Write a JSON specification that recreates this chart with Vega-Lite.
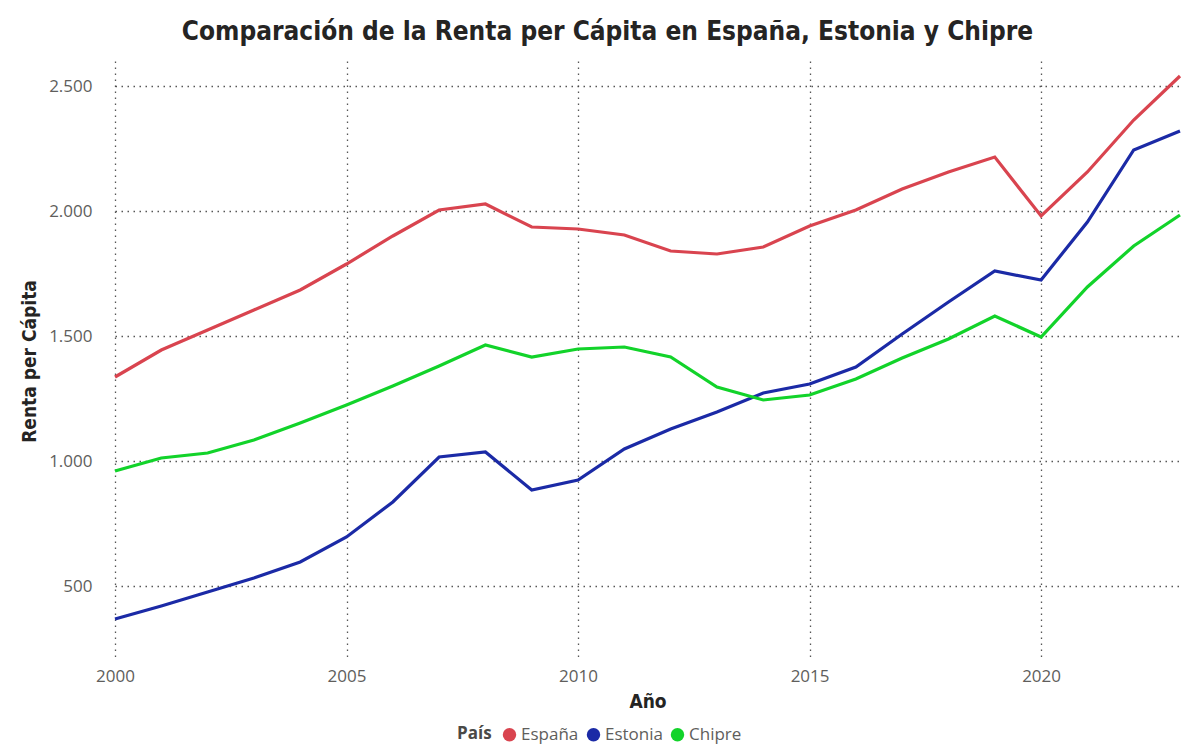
{
  "$schema": "https://vega.github.io/schema/vega-lite/v6.json",
  "autosize": {"type": "none"},
  "width": 1065,
  "height": 600,
  "padding": {"left": 115, "top": 61, "right": 6, "bottom": 84},
  "background": "white",
  "title": {
    "text": "Comparación de la Renta per Cápita en España, Estonia y Chipre",
    "font": "DejaVu Sans Condensed",
    "fontWeight": "bold",
    "fontSize": 26,
    "color": "#252423",
    "anchor": "middle",
    "dx": -40,
    "offset": 16
  },
  "data": {
    "values": [
      {"Año": 2000, "País": "España", "Renta": 1336},
      {"Año": 2001, "País": "España", "Renta": 1444},
      {"Año": 2002, "País": "España", "Renta": 1524},
      {"Año": 2003, "País": "España", "Renta": 1604},
      {"Año": 2004, "País": "España", "Renta": 1684},
      {"Año": 2005, "País": "España", "Renta": 1788},
      {"Año": 2006, "País": "España", "Renta": 1900},
      {"Año": 2007, "País": "España", "Renta": 2004},
      {"Año": 2008, "País": "España", "Renta": 2028},
      {"Año": 2009, "País": "España", "Renta": 1936},
      {"Año": 2010, "País": "España", "Renta": 1928},
      {"Año": 2011, "País": "España", "Renta": 1904},
      {"Año": 2012, "País": "España", "Renta": 1840},
      {"Año": 2013, "País": "España", "Renta": 1828},
      {"Año": 2014, "País": "España", "Renta": 1856},
      {"Año": 2015, "País": "España", "Renta": 1940},
      {"Año": 2016, "País": "España", "Renta": 2004},
      {"Año": 2017, "País": "España", "Renta": 2088},
      {"Año": 2018, "País": "España", "Renta": 2156},
      {"Año": 2019, "País": "España", "Renta": 2216},
      {"Año": 2020, "País": "España", "Renta": 1980},
      {"Año": 2021, "País": "España", "Renta": 2156},
      {"Año": 2022, "País": "España", "Renta": 2364},
      {"Año": 2023, "País": "España", "Renta": 2540},
      {"Año": 2000, "País": "Estonia", "Renta": 368},
      {"Año": 2001, "País": "Estonia", "Renta": 420},
      {"Año": 2002, "País": "Estonia", "Renta": 476},
      {"Año": 2003, "País": "Estonia", "Renta": 532},
      {"Año": 2004, "País": "Estonia", "Renta": 596},
      {"Año": 2005, "País": "Estonia", "Renta": 696},
      {"Año": 2006, "País": "Estonia", "Renta": 836},
      {"Año": 2007, "País": "Estonia", "Renta": 1016},
      {"Año": 2008, "País": "Estonia", "Renta": 1036},
      {"Año": 2009, "País": "Estonia", "Renta": 884},
      {"Año": 2010, "País": "Estonia", "Renta": 924},
      {"Año": 2011, "País": "Estonia", "Renta": 1048},
      {"Año": 2012, "País": "Estonia", "Renta": 1128},
      {"Año": 2013, "País": "Estonia", "Renta": 1196},
      {"Año": 2014, "País": "Estonia", "Renta": 1272},
      {"Año": 2015, "País": "Estonia", "Renta": 1308},
      {"Año": 2016, "País": "Estonia", "Renta": 1376},
      {"Año": 2017, "País": "Estonia", "Renta": 1508},
      {"Año": 2018, "País": "Estonia", "Renta": 1636},
      {"Año": 2019, "País": "Estonia", "Renta": 1760},
      {"Año": 2020, "País": "Estonia", "Renta": 1724},
      {"Año": 2021, "País": "Estonia", "Renta": 1956},
      {"Año": 2022, "País": "Estonia", "Renta": 2244},
      {"Año": 2023, "País": "Estonia", "Renta": 2320},
      {"Año": 2000, "País": "Chipre", "Renta": 960},
      {"Año": 2001, "País": "Chipre", "Renta": 1012},
      {"Año": 2002, "País": "Chipre", "Renta": 1032},
      {"Año": 2003, "País": "Chipre", "Renta": 1084},
      {"Año": 2004, "País": "Chipre", "Renta": 1152},
      {"Año": 2005, "País": "Chipre", "Renta": 1224},
      {"Año": 2006, "País": "Chipre", "Renta": 1300},
      {"Año": 2007, "País": "Chipre", "Renta": 1380},
      {"Año": 2008, "País": "Chipre", "Renta": 1464},
      {"Año": 2009, "País": "Chipre", "Renta": 1416},
      {"Año": 2010, "País": "Chipre", "Renta": 1448},
      {"Año": 2011, "País": "Chipre", "Renta": 1456},
      {"Año": 2012, "País": "Chipre", "Renta": 1416},
      {"Año": 2013, "País": "Chipre", "Renta": 1296},
      {"Año": 2014, "País": "Chipre", "Renta": 1244},
      {"Año": 2015, "País": "Chipre", "Renta": 1264},
      {"Año": 2016, "País": "Chipre", "Renta": 1328},
      {"Año": 2017, "País": "Chipre", "Renta": 1412},
      {"Año": 2018, "País": "Chipre", "Renta": 1488},
      {"Año": 2019, "País": "Chipre", "Renta": 1580},
      {"Año": 2020, "País": "Chipre", "Renta": 1496},
      {"Año": 2021, "País": "Chipre", "Renta": 1696},
      {"Año": 2022, "País": "Chipre", "Renta": 1860},
      {"Año": 2023, "País": "Chipre", "Renta": 1984}
    ]
  },
  "mark": {"type": "line", "strokeWidth": 3.2, "strokeJoin": "miter"},
  "encoding": {
    "x": {
      "field": "Año",
      "type": "quantitative",
      "scale": {"domain": [2000, 2023], "nice": false, "zero": false},
      "axis": {
        "title": "Año",
        "values": [2000, 2005, 2010, 2015, 2020],
        "format": "d",
        "labelFlush": false,
        "labelPadding": 7,
        "titlePadding": 8
      }
    },
    "y": {
      "field": "Renta",
      "type": "quantitative",
      "scale": {"domain": [200, 2600], "nice": false, "zero": false},
      "axis": {
        "title": "Renta per Cápita",
        "values": [500, 1000, 1500, 2000, 2500],
        "labelExpr": "replace(format(datum.value, ','), ',', '.')",
        "labelFlush": false,
        "labelPadding": 23,
        "titlePadding": 9
      }
    },
    "color": {
      "field": "País",
      "type": "nominal",
      "sort": ["España", "Estonia", "Chipre"],
      "scale": {"domain": ["España", "Estonia", "Chipre"], "range": ["#D9444F", "#1B2AA6", "#12D32A"]},
      "legend": {
        "orient": "none",
        "legendX": 342,
        "legendY": 665,
        "direction": "horizontal",
        "title": "País",
        "titleOrient": "left",
        "titlePadding": 9,
        "symbolType": "circle",
        "symbolSize": 180,
        "labelOffset": 3,
        "columnPadding": 6,
        "encode": {
          "symbols": {
            "update": {
              "fill": {"scale": "color", "field": "value"},
              "fillOpacity": {"value": 1},
              "strokeWidth": {"value": 0}
            }
          }
        }
      }
    }
  },
  "config": {
    "view": {"stroke": null},
    "axis": {
      "domain": false,
      "ticks": false,
      "grid": true,
      "gridColor": "#444444",
      "gridDash": [1.5, 4.5],
      "gridWidth": 1.3,
      "gridOpacity": 0.9,
      "labelFont": "Open Sans",
      "labelFontSize": 17,
      "labelColor": "#605E5C",
      "titleFont": "DejaVu Sans Condensed",
      "titleFontWeight": "bold",
      "titleFontSize": 19,
      "titleColor": "#252423"
    },
    "legend": {
      "labelFont": "Open Sans",
      "labelFontSize": 17,
      "labelColor": "#605E5C",
      "titleFont": "Open Sans",
      "titleFontWeight": "bold",
      "titleFontSize": 17,
      "titleColor": "#4A4947"
    }
  }
}
